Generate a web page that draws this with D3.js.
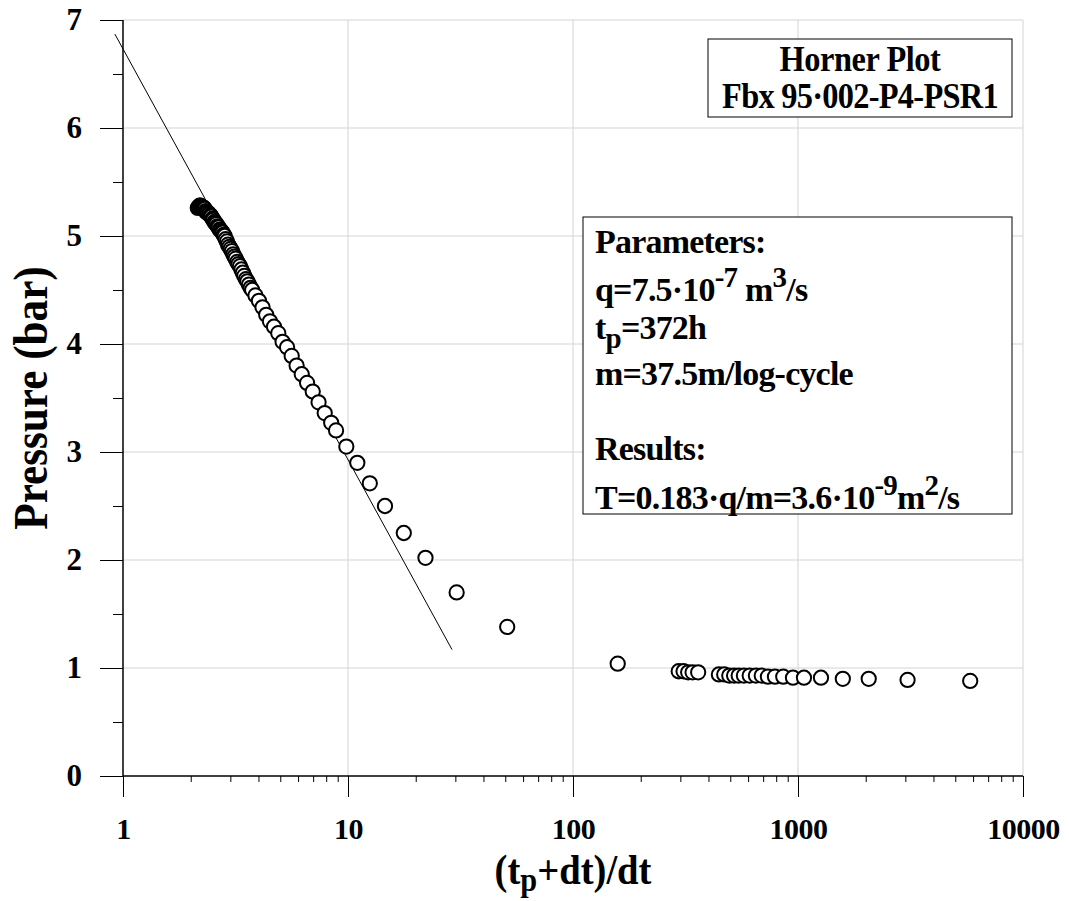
<!DOCTYPE html>
<html>
<head>
<meta charset="utf-8">
<script src="https://cdn.jsdelivr.net/npm/d3@7"></script>
<style>
  body { margin: 0; background: #fff; }
  text { font-family: "Liberation Serif", "Times New Roman", serif; font-weight: bold; }
</style>
</head>
<body>
<div id="chart"></div>
<script>
// measured points: (tp+dt)/dt and pressure in bar
const hornerX = [2.15, 2.17, 2.19, 2.21, 2.23, 2.25, 2.27, 2.29, 2.31, 2.33, 2.35, 2.37, 2.40, 2.42, 2.45,
  2.47, 2.50, 2.52, 2.55, 2.57, 2.60, 2.63, 2.66, 2.69, 2.72, 2.75, 2.77, 2.80, 2.83, 2.86, 2.90, 2.93,
  2.97, 3.01, 3.05, 3.09, 3.13, 3.17, 3.22, 3.26, 3.31, 3.36, 3.41, 3.46, 3.52, 3.57, 3.63, 3.69, 3.75,
  3.88, 4.02, 4.17, 4.33, 4.50, 4.69, 4.90, 5.12, 5.36, 5.62, 5.91, 6.23, 6.58, 6.97, 7.40, 7.88, 8.42,
  8.85, 9.83, 11.0, 12.5, 14.6, 17.7, 22.1, 30.4, 51.0, 158, 295, 310, 325, 340, 360, 445, 470, 495,
  520, 545, 575, 610, 650, 690, 735, 790, 860, 950, 1063, 1265, 1582, 2062, 3069, 5826];
const pressure = [5.26, 5.27, 5.28, 5.28, 5.27, 5.27, 5.26, 5.26, 5.25, 5.23, 5.22, 5.22, 5.21, 5.20, 5.19,
  5.18, 5.16, 5.15, 5.13, 5.12, 5.11, 5.09, 5.08, 5.06, 5.05, 5.04, 5.03, 5.01, 5.00, 4.97, 4.95, 4.92,
  4.90, 4.88, 4.86, 4.83, 4.81, 4.79, 4.76, 4.74, 4.72, 4.69, 4.66, 4.63, 4.60, 4.58, 4.55, 4.52, 4.50,
  4.45, 4.40, 4.34, 4.27, 4.21, 4.16, 4.10, 4.02, 3.97, 3.89, 3.80, 3.72, 3.64, 3.56, 3.46, 3.36, 3.27,
  3.20, 3.05, 2.90, 2.71, 2.50, 2.25, 2.02, 1.70, 1.38, 1.04, 0.97, 0.97, 0.96, 0.96, 0.96, 0.94, 0.94,
  0.93, 0.93, 0.93, 0.93, 0.93, 0.93, 0.93, 0.92, 0.92, 0.92, 0.91, 0.91, 0.91, 0.90, 0.90, 0.89, 0.88];

// straight-line fit (semi-log)
const fitX = [0.92, 29];
const fitP = [6.87, 1.17];

const xMajor = [1, 10, 100, 1000, 10000];
const yMajor = [0, 1, 2, 3, 4, 5, 6, 7];

const width = 1069, height = 901;
const margin = { top: 20, right: 46, bottom: 125, left: 123 };

const svg = d3.select('#chart').append('svg')
  .attr('width', width)
  .attr('height', height);

const x = d3.scaleLog()
  .domain([1, 10000])
  .range([margin.left, width - margin.right]);
const y = d3.scaleLinear()
  .domain([0, 7])
  .range([height - margin.bottom, margin.top]);

const xMinor = [];
for (let d = 1; d < 10000; d *= 10) for (let k = 2; k <= 9; k++) xMinor.push(d * k);
const yMinor = d3.range(0.5, 7, 1);

// grid
svg.append('g')
  .attr('stroke', '#d4d4d4')
  .attr('stroke-width', 1)
  .call(g => g.selectAll('.h').data(yMajor.slice(1)).join('line')
    .attr('x1', x(1)).attr('x2', x(10000))
    .attr('y1', d => y(d)).attr('y2', d => y(d)))
  .call(g => g.selectAll('.v').data(xMajor.slice(1)).join('line')
    .attr('x1', d => x(d)).attr('x2', d => x(d))
    .attr('y1', y(0)).attr('y2', y(7)));

// axes
function xAxis(g) {
  g.attr('transform', `translate(0,${y(0)})`)
    .call(d3.axisBottom(x).tickValues(xMajor).tickFormat(d3.format('d'))
      .tickSize(21).tickSizeOuter(0).tickPadding(21))
    .call(g => g.select('.domain').remove())
    .attr('font-size', 30);
  g.selectAll('text').attr('fill', '#000')
    .attr('font-family', '"Liberation Serif", serif').attr('font-weight', 'bold')
    .attr('letter-spacing', -0.5);
}
function yAxis(g) {
  g.attr('transform', `translate(${x(1)},0)`)
    .call(d3.axisLeft(y).tickValues(yMajor).tickFormat(d3.format('d'))
      .tickSize(23).tickSizeOuter(0).tickPadding(18))
    .call(g => g.select('.domain').remove())
    .attr('font-size', 31);
  g.selectAll('text').attr('fill', '#000')
    .attr('font-family', '"Liberation Serif", serif').attr('font-weight', 'bold');
}
svg.append('g').call(xAxis);
svg.append('g').call(yAxis);

svg.append('g')
  .attr('transform', `translate(0,${y(0)})`)
  .call(d3.axisBottom(x).tickValues(xMinor).tickFormat('').tickSize(6).tickSizeOuter(0))
  .call(g => g.select('.domain').remove());
svg.append('g')
  .attr('transform', `translate(${x(1)},0)`)
  .call(d3.axisLeft(y).tickValues(yMinor).tickFormat('').tickSize(10).tickSizeOuter(0))
  .call(g => g.select('.domain').remove());

// axis lines
svg.append('line')
  .attr('x1', x(1)).attr('x2', x(10000))
  .attr('y1', y(0)).attr('y2', y(0))
  .attr('stroke', '#000').attr('stroke-width', 1.5);
svg.append('line')
  .attr('x1', x(1)).attr('x2', x(1))
  .attr('y1', y(0)).attr('y2', y(7))
  .attr('stroke', '#000').attr('stroke-width', 1.5);

// fit line
svg.append('path')
  .datum(d3.zip(fitX, fitP))
  .attr('fill', 'none')
  .attr('stroke', '#000')
  .attr('stroke-width', 1)
  .attr('d', d3.line().x(d => x(d[0])).y(d => y(d[1])));

// data markers
svg.append('g')
  .selectAll('path')
  .data(d3.zip(hornerX, pressure))
  .join('path')
  .attr('transform', d => `translate(${x(d[0])},${y(d[1])})`)
  .attr('d', d3.symbol(d3.symbolCircle, 160))
  .attr('fill', '#fff')
  .attr('stroke', '#000')
  .attr('stroke-width', 2);

// axis titles
svg.append('text')
  .attr('transform', `translate(47,${(y(0) + y(7)) / 2}) rotate(-90) scale(0.9,1)`)
  .attr('text-anchor', 'middle')
  .attr('font-size', 48)
  .text('Pressure (bar)');

const xt = svg.append('text')
  .attr('transform', `translate(${x(100)},884) scale(0.92,1)`)
  .attr('text-anchor', 'middle')
  .attr('font-size', 42);
xt.append('tspan').text('(t');
xt.append('tspan').attr('dy', 7).attr('font-size', 33).text('p');
xt.append('tspan').attr('dy', -7).text('+dt)/dt');

// title box
svg.append('rect')
  .attr('x', 708).attr('y', 39).attr('width', 304).attr('height', 78)
  .attr('fill', '#fff').attr('stroke', '#000').attr('stroke-width', 1);
svg.append('text').attr('transform', 'translate(860,71) scale(0.9,1)').attr('text-anchor', 'middle')
  .attr('font-size', 36).attr('letter-spacing', -0.5).text('Horner Plot');
svg.append('text').attr('transform', 'translate(860,108) scale(0.9,1)').attr('text-anchor', 'middle')
  .attr('font-size', 36).attr('letter-spacing', -0.8).text('Fbx 95·002-P4-PSR1');

// parameters box
svg.append('rect')
  .attr('x', 583).attr('y', 217).attr('width', 429).attr('height', 297)
  .attr('fill', '#fff').attr('stroke', '#000').attr('stroke-width', 1);

const tx = 595;
const p = svg.append('g').attr('font-size', 34).attr('letter-spacing', -0.8);
p.append('text').attr('x', tx).attr('y', 253).text('Parameters:');
const q = p.append('text').attr('x', tx).attr('y', 301);
q.append('tspan').text('q=7.5·10');
q.append('tspan').attr('dy', -14).attr('font-size', 29).text('-7');
q.append('tspan').attr('dy', 14).text(' m');
q.append('tspan').attr('dy', -14).attr('font-size', 29).text('3');
q.append('tspan').attr('dy', 14).text('/s');
const tp = p.append('text').attr('x', tx).attr('y', 339);
tp.append('tspan').text('t');
tp.append('tspan').attr('dy', 9).attr('font-size', 29).text('p');
tp.append('tspan').attr('dy', -9).text('=372h');
p.append('text').attr('x', tx).attr('y', 385).text('m=37.5m/log-cycle');
p.append('text').attr('x', tx).attr('y', 460).text('Results:');
const r = p.append('text').attr('x', tx).attr('y', 509);
r.append('tspan').text('T=0.183·q/m=3.6·10');
r.append('tspan').attr('dy', -14).attr('font-size', 29).text('-9');
r.append('tspan').attr('dy', 14).text('m');
r.append('tspan').attr('dy', -14).attr('font-size', 29).text('2');
r.append('tspan').attr('dy', 14).text('/s');
</script>
</body>
</html>
